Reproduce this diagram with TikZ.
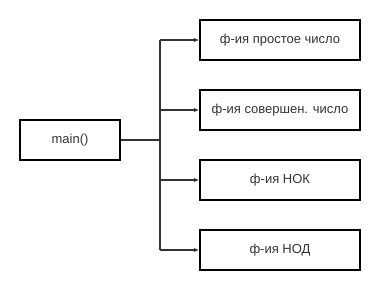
\documentclass[tikz,border=0pt]{standalone}
\usepackage{fontspec}
\setmainfont{Liberation Sans}
\usetikzlibrary{arrows.meta}
\begin{document}
\begin{tikzpicture}[x=1pt,y=-1pt,
  block/.style={draw=black, line width=2pt, minimum height=40pt,
    inner sep=0pt, font=\fontsize{13}{15}\selectfont, text=black!80},
  link/.style={draw=black!80, line width=1.8pt},
  call/.style={link, -{Latex[length=5pt,width=4.5pt]}}]
  \useasboundingbox (0,0) rectangle (380,290);
  % caller
  \node[block, minimum width=100pt] (main) at (70,140) {main()};
  % called functions
  \node[block, minimum width=160pt] (f1) at (280,40) {ф-ия простое число};
  \node[block, minimum width=160pt] (f2) at (280,110) {ф-ия совершен. число};
  \node[block, minimum width=160pt] (f3) at (280,180) {ф-ия НОК};
  \node[block, minimum width=160pt] (f4) at (280,250) {ф-ия НОД};
  % branching connector
  \coordinate (j) at (160,140);
  \draw[link] (main.east) -- (j);
  \draw[link] (j |- f1.west) -- (j |- f4.west);
  \foreach \n in {f1,f2,f3,f4}
    \draw[call] (j |- \n.west) -- (\n.west);
\end{tikzpicture}
\end{document}
